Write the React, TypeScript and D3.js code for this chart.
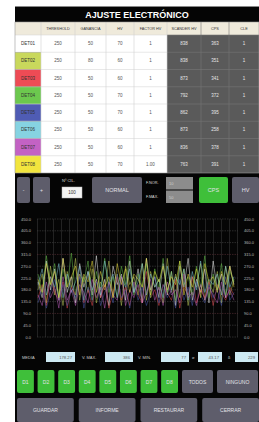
import * as d3 from 'd3';

// ---------------------------------------------------------------------------
// Data
// ---------------------------------------------------------------------------

const HEADERS = ['THRESHOLD', 'GANANCIA', 'HV', 'FACTOR HV', 'SCANDER HV', 'CPS', 'CLE'];
const DETECTORS = ['DET01', 'DET02', 'DET03', 'DET04', 'DET05', 'DET06', 'DET07', 'DET08'];
const DET_COLORS = ['#ffffff', '#c9d85c', '#ee4b55', '#6cc84e', '#4f5cb4', '#86d3e2', '#c362c4', '#f2e53e'];
const THRESHOLD = [250, 250, 250, 250, 250, 250, 250, 250];
const GANANCIA = [50, 80, 50, 50, 50, 50, 50, 50];
const HV = [70, 60, 60, 70, 70, 60, 60, 70];
const FACTOR_HV = ['1', '1', '1', '1', '1', '1', '1', '1.00'];
const SCANDER_HV = [838, 838, 873, 792, 862, 873, 836, 763];
const CPS = [363, 351, 341, 372, 395, 258, 378, 391];
const CLE = [1, 1, 1, 1, 1, 1, 1, 1];

const Y_TICKS = [450, 405, 360, 315, 270, 225, 180, 135, 90, 45, 0];

const SERIES: number[][] = [
  [210, 150, 290, 180, 260, 140, 300, 170, 230, 130, 280, 190, 250, 160, 310, 150, 220, 120, 270, 200, 240, 140, 290, 170, 260, 130, 300, 180, 230, 150, 280, 160, 250, 120, 270, 190, 300, 140, 220, 170, 260, 130, 290, 180, 240, 150, 270, 200],
  [180, 240, 130, 270, 160, 220, 120, 250, 190, 300, 140, 230, 170, 260, 130, 210, 180, 290, 150, 240, 120, 270, 200, 230, 160, 280, 140, 250, 190, 220, 130, 300, 170, 240, 150, 260, 120, 230, 190, 280, 140, 210, 170, 250, 130, 270, 160, 220],
  [150, 200, 120, 230, 170, 140, 210, 110, 190, 160, 240, 130, 180, 120, 220, 150, 200, 110, 170, 230, 140, 190, 120, 210, 160, 130, 250, 150, 180, 120, 200, 170, 140, 220, 110, 190, 160, 230, 130, 180, 150, 210, 120, 200, 170, 140, 190, 160],
  [240, 170, 310, 200, 280, 150, 260, 190, 320, 160, 240, 210, 290, 140, 250, 180, 300, 170, 230, 150, 270, 200, 310, 160, 240, 190, 280, 150, 260, 180, 300, 170, 250, 140, 290, 200, 230, 160, 270, 190, 310, 150, 240, 180, 280, 160, 250, 210],
  [130, 190, 110, 170, 220, 140, 200, 120, 180, 150, 230, 110, 190, 140, 210, 120, 170, 200, 130, 240, 150, 180, 110, 210, 140, 190, 120, 170, 230, 130, 200, 150, 180, 110, 220, 140, 190, 120, 210, 160, 130, 200, 150, 180, 120, 230, 140, 170],
  [200, 260, 160, 230, 190, 280, 150, 240, 170, 210, 270, 140, 250, 180, 220, 160, 290, 200, 240, 150, 230, 190, 260, 170, 210, 280, 160, 240, 190, 220, 150, 270, 180, 230, 200, 260, 140, 250, 180, 290, 170, 220, 200, 240, 160, 270, 190, 230],
  [160, 120, 210, 150, 190, 110, 230, 140, 180, 120, 200, 170, 130, 220, 150, 190, 110, 210, 160, 140, 230, 120, 180, 150, 200, 130, 170, 220, 140, 190, 120, 210, 160, 180, 130, 240, 150, 170, 120, 200, 140, 190, 160, 130, 210, 150, 180, 140],
  [220, 170, 280, 200, 250, 150, 300, 190, 230, 270, 160, 240, 210, 290, 170, 250, 190, 230, 150, 280, 200, 260, 170, 240, 220, 190, 300, 160, 250, 210, 270, 180, 230, 200, 290, 160, 240, 190, 260, 150, 280, 210, 230, 170, 250, 200, 270, 190],
];

const STATS = [
  { label: 'MEDIA', value: '178.27' },
  { label: 'V. MÁX.', value: '386' },
  { label: 'V. MIN.', value: '77' },
  { label: 'σ', value: '43.17' },
  { label: 'δ', value: '229' },
];
const DET_BUTTONS = ['D1', 'D2', 'D3', 'D4', 'D5', 'D6', 'D7', 'D8'];
const BOTTOM_BUTTONS = ['GUARDAR', 'INFORME', 'RESTAURAR', 'CERRAR'];

// ---------------------------------------------------------------------------
// Layout / colours
// ---------------------------------------------------------------------------

const W = 259;
const H = 422;
const FONT = '"Liberation Sans", Arial, sans-serif';
const BTN = '#5e5d6b';
const GREEN = '#3fbf3a';
const COL_EDGES = [15, 41, 75, 106, 134, 167, 201, 229, 259];

function Btn({ x, y, w, h, label, fill = BTN, size = 5 }: { x: number; y: number; w: number; h: number; label: string; fill?: string; size?: number }) {
  return (
    <g>
      <rect x={x} y={y} width={w} height={h} rx={2} fill={fill} />
      <text x={x + w / 2} y={y + h / 2} textAnchor="middle" dominantBaseline="central" fill="#e2e2e8" fontSize={size} fontFamily={FONT}>
        {label}
      </text>
    </g>
  );
}

export default function App() {
  const headerTop = 22;
  const headerBottom = 35;
  const tableBottom = 173;
  const rowY = d3.scaleBand<number>().domain(DETECTORS.map((_, i) => i)).range([headerBottom, tableBottom]);

  const cells: (string | number)[][] = DETECTORS.map((_, i) => [
    THRESHOLD[i], GANANCIA[i], HV[i], FACTOR_HV[i], SCANDER_HV[i], CPS[i], CLE[i],
  ]);

  // chart
  const plot = { left: 37, right: 238, top: 219, bottom: 337 };
  const y = d3.scaleLinear().domain([0, 450]).range([plot.bottom, plot.top]);
  const n = SERIES[0].length;
  const x = d3.scaleLinear().domain([0, n - 1]).range([plot.left + 1, plot.right - 4]);
  const line = d3.line<number>().x((_, i) => x(i)).y((d) => y(d)).curve(d3.curveLinear);
  const vGrid = d3.range(plot.left, plot.right + 1, 8);

  // stats positions
  const statLabelX = [22, 82, 138, 192, 228];
  const statBox = [[46, 75], [105, 133], [161, 189], [198, 222], [235, 258]];

  const detX = d3.scaleBand<number>().domain(DET_BUTTONS.map((_, i) => i)).range([17, 178]).paddingInner(0.18);
  const botX = d3.scaleBand<number>().domain(BOTTOM_BUTTONS.map((_, i) => i)).range([17, 259]).paddingInner(0.08);

  return (
    <svg width={W} height={H} style={{ position: 'absolute', left: 0, top: 0, background: '#fff' }}>
      {/* panel */}
      <rect x={15} y={6} width={W - 15} height={H - 6} fill="#050505" />
      <line x1={15} x2={W} y1={6.5} y2={6.5} stroke="#888" strokeWidth={1} />
      <text x={137} y={14.5} textAnchor="middle" dominantBaseline="central" fill="#fff" fontSize={9} fontWeight="bold" fontFamily={FONT}>
        AJUSTE ELECTRÓNICO
      </text>

      {/* table header */}
      <rect x={15} y={headerTop} width={W - 15} height={headerBottom - headerTop} fill="#efeadb" />
      {HEADERS.map((h, j) => (
        <text key={h} x={(COL_EDGES[j + 1] + COL_EDGES[j + 2]) / 2} y={(headerTop + headerBottom) / 2} textAnchor="middle" dominantBaseline="central" fill="#333" fontSize={3.8} fontFamily={FONT}>
          {h}
        </text>
      ))}

      {/* table body */}
      <rect x={41} y={headerBottom} width={167 - 41} height={tableBottom - headerBottom} fill="#fff" />
      <rect x={167} y={headerBottom} width={W - 167} height={tableBottom - headerBottom} fill="#5a5a5a" />
      {DETECTORS.map((d, i) => {
        const ry = rowY(i)!;
        const bh = rowY.bandwidth();
        return (
          <g key={d}>
            <rect x={15} y={ry} width={26} height={bh} fill={DET_COLORS[i]} />
            <text x={28} y={ry + bh / 2} textAnchor="middle" dominantBaseline="central" fill="#333" fontSize={4.5} fontFamily={FONT}>{d}</text>
            {cells[i].map((v, j) => (
              <text key={j} x={(COL_EDGES[j + 1] + COL_EDGES[j + 2]) / 2} y={ry + bh / 2} textAnchor="middle" dominantBaseline="central" fill={j >= 4 ? '#e8e8e8' : '#555'} fontSize={4.5} fontFamily={FONT}>
                {v}
              </text>
            ))}
          </g>
        );
      })}
      {/* grid lines */}
      {DETECTORS.map((_, i) => (
        <g key={'rl' + i}>
          <line x1={15} x2={167} y1={rowY(i)!} y2={rowY(i)!} stroke="#d8d8d8" strokeWidth={0.6} />
          <line x1={167} x2={W} y1={rowY(i)!} y2={rowY(i)!} stroke="#777" strokeWidth={0.6} />
        </g>
      ))}
      {COL_EDGES.slice(1, -1).map((cx) => (
        <line key={'cl' + cx} x1={cx} x2={cx} y1={headerTop} y2={tableBottom} stroke={cx > 167 ? '#777' : '#d0d0d0'} strokeWidth={0.6} />
      ))}
      <rect x={15} y={headerTop} width={W - 15} height={tableBottom - headerTop} fill="none" stroke="#999" strokeWidth={0.6} />

      {/* control bar */}
      <Btn x={17} y={177} w={13} h={26} label="-" />
      <Btn x={33} y={177} w={17} h={26} label="+" />
      <text x={62} y={182} fill="#ddd" fontSize={4} fontFamily={FONT}>Nº CIL.</text>
      <rect x={62} y={187} width={20} height={11} fill="#f4f4f4" stroke="#bbb" strokeWidth={0.5} />
      <text x={72} y={192.5} textAnchor="middle" dominantBaseline="central" fill="#333" fontSize={4.5} fontFamily={FONT}>100</text>
      <Btn x={92} y={177} w={50} h={26} label="NORMAL" size={5.5} />
      <text x={146} y={184} fill="#ddd" fontSize={3.8} fontFamily={FONT}>F.NOR.</text>
      <text x={146} y={198} fill="#ddd" fontSize={3.8} fontFamily={FONT}>F.MAX.</text>
      <rect x={166} y={177} width={27} height={12.5} fill="#8c8c8c" />
      <rect x={166} y={190.5} width={27} height={12.5} fill="#8c8c8c" />
      <text x={169} y={183.5} dominantBaseline="central" fill="#ccc" fontSize={4} fontFamily={FONT}>10</text>
      <text x={169} y={197} dominantBaseline="central" fill="#ccc" fontSize={4} fontFamily={FONT}>50</text>
      <Btn x={199} y={177} w={29} h={26} label="CPS" fill={GREEN} size={5.5} />
      <Btn x={232} y={177} w={27} h={26} label="HV" size={5.5} />

      {/* chart */}
      {vGrid.map((gx) => (
        <line key={'vg' + gx} x1={gx + 0.5} x2={gx + 0.5} y1={plot.top} y2={plot.bottom} stroke="#363636" strokeWidth={0.6} />
      ))}
      {Y_TICKS.map((t) => (
        <g key={'yt' + t}>
          <line x1={plot.left} x2={plot.right} y1={y(t)} y2={y(t)} stroke={t === 90 || t === 315 ? '#5a3038' : '#444'} strokeWidth={0.6} strokeDasharray="1.5,1" />
          <text x={31} y={y(t)} textAnchor="end" dominantBaseline="central" fill="#bbb" fontSize={4} fontFamily={FONT}>{t.toFixed(1)}</text>
          <text x={244} y={y(t)} textAnchor="start" dominantBaseline="central" fill="#bbb" fontSize={4} fontFamily={FONT}>{t.toFixed(1)}</text>
        </g>
      ))}
      {SERIES.map((s, k) => (
        <path key={'s' + k} d={line(s) ?? ''} fill="none" stroke={DET_COLORS[k]} strokeWidth={0.6} strokeOpacity={0.8} />
      ))}

      {/* stats */}
      {STATS.map((s, i) => (
        <g key={s.label}>
          <text x={statLabelX[i]} y={357} dominantBaseline="central" fill="#ccc" fontSize={4} fontFamily={FONT}>{s.label}</text>
          <rect x={statBox[i][0]} y={352} width={statBox[i][1] - statBox[i][0]} height={10} fill="#cde9f2" />
          <text x={statBox[i][1] - 3} y={357} textAnchor="end" dominantBaseline="central" fill="#555" fontSize={4.2} fontFamily={FONT}>{s.value}</text>
        </g>
      ))}

      {/* detector toggles */}
      {DET_BUTTONS.map((b, i) => (
        <Btn key={b} x={detX(i)!} y={370} w={detX.bandwidth()} h={23} label={b} fill={GREEN} />
      ))}
      <Btn x={182} y={370} w={31} h={23} label="TODOS" />
      <Btn x={217} y={370} w={41} h={23} label="NINGUNO" />

      {/* bottom buttons */}
      {BOTTOM_BUTTONS.map((b, i) => (
        <Btn key={b} x={botX(i)!} y={398} w={botX.bandwidth()} h={24} label={b} />
      ))}
    </svg>
  );
}
